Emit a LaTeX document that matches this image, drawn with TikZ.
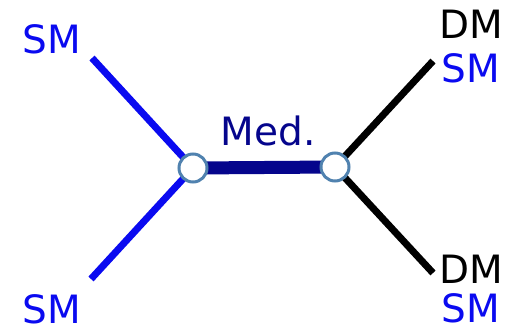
\documentclass[tikz,border=0pt]{standalone}
\usepackage{fontspec}
\setmainfont{DejaVu Sans}
\definecolor{smblue}{RGB}{10,10,240}
\definecolor{medblue}{RGB}{5,5,140}
\definecolor{vring}{RGB}{80,130,175}
\begin{document}
\begin{tikzpicture}[x=1pt,y=-1pt,
  leg/.style={line width=7pt},
  vertex/.style={circle,draw=vring,fill=white,line width=3pt,minimum size=28pt,inner sep=0pt},
  lbl/.style={font=\fontsize{39}{42}\selectfont,inner sep=0pt}]
  \useasboundingbox (0,0) rectangle (508,332);
  % vertices and outer end points
  \coordinate (va) at (193,168);
  \coordinate (vb) at (335,167);
  \coordinate (ul) at (92,58);
  \coordinate (ll) at (91,279);
  \coordinate (ur) at (433,61);
  \coordinate (lr) at (433,273);
  % legs
  \draw[leg,smblue] (ul) -- (va);
  \draw[leg,smblue] (ll) -- (va);
  \draw[leg,black] (ur) -- (vb);
  \draw[leg,black] (lr) -- (vb);
  \draw[line width=13pt,medblue] (va) -- (vb);
  \node[vertex] (a) at (va) {};
  \node[vertex] (b) at (vb) {};
  % labels
  \node[lbl,smblue] (sm1) at (52,39) {SM};
  \node[lbl,smblue] (sm2) at (52,309) {SM};
  \node[lbl,black] (dm1) at (471,24) {DM};
  \node[lbl,smblue] (sm3) at (471,68) {SM};
  \node[lbl,black] (dm2) at (471,269) {DM};
  \node[lbl,smblue] (sm4) at (471,308) {SM};
  \node[lbl,medblue] (med) at (268,131) {Med.};
\end{tikzpicture}
\end{document}
